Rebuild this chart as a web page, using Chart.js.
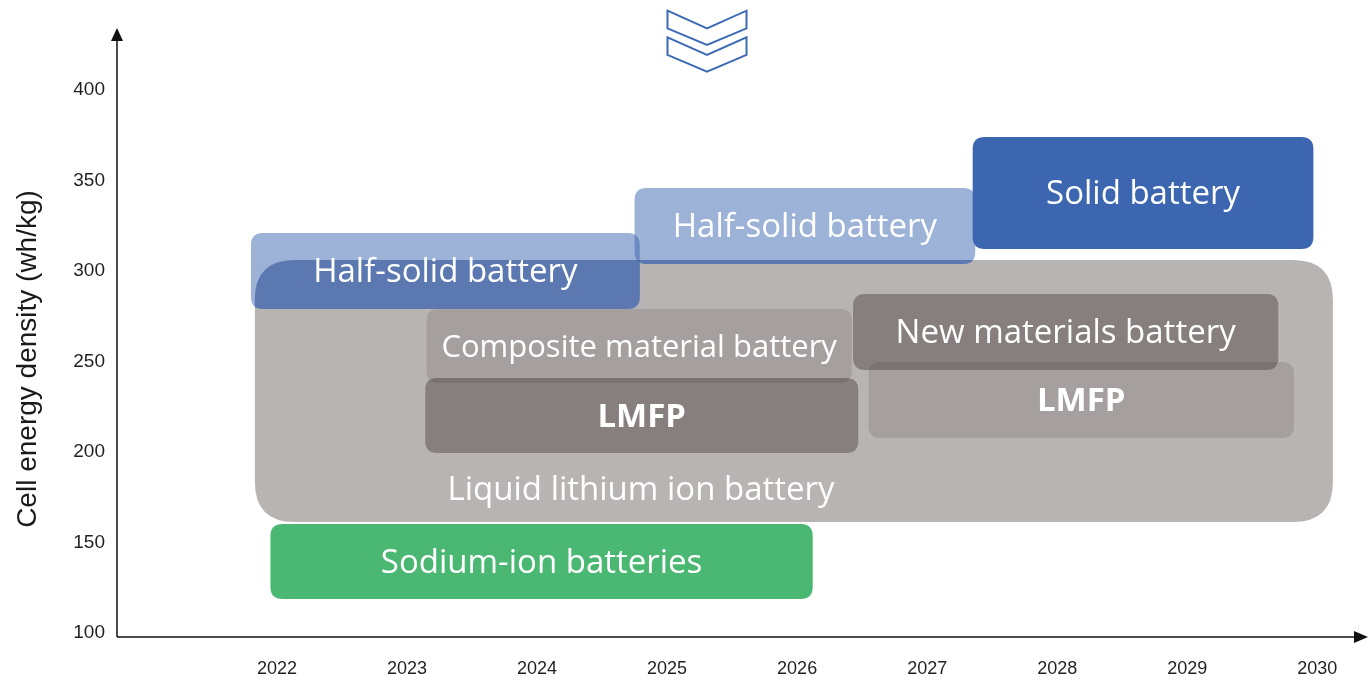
<!DOCTYPE html>
<html>
<head>
<meta charset="utf-8">
<script src="https://cdn.jsdelivr.net/npm/chart.js@4"></script>
<style>
  html, body { margin: 0; padding: 0; background: #fff; }
  #wrap { width: 1371px; height: 680px; }
</style>
</head>
<body>
<div id="wrap"><canvas id="chart"></canvas></div>
<script>
// Dados do gráfico
const years = [2022, 2023, 2024, 2025, 2026, 2027, 2028, 2029, 2030];
const yTicks = [100, 150, 200, 250, 300, 350, 400];

const boxNames = ['Liquid lithium ion battery', 'Composite material battery', 'LMFP', 'New materials battery',
  'LMFP', 'Sodium-ion batteries', 'Half-solid battery', 'Half-solid battery', 'Solid battery'];
const boxStart = [2021.83, 2023.15, 2023.14, 2026.43, 2026.55, 2021.95, 2021.8, 2024.75, 2027.35];
const boxEnd   = [2030.12, 2026.42, 2026.47, 2029.7, 2029.82, 2026.12, 2024.79, 2027.37, 2029.97];
const boxLow   = [161.3, 238.1, 199.4, 245.3, 207.7, 118.8, 279, 303.9, 312.2];
const boxHigh  = [306.1, 279, 240.9, 287.3, 249.7, 160.2, 321, 345.9, 374];
// posição do rótulo (null = centro da caixa)
const labelYear = [2024.8, null, null, null, null, null, null, null, null];
const labelValue = [180, null, null, null, null, null, null, null, null];

const boxColors = ['#b8b4b3', 'rgba(60,45,45,0.15)', 'rgba(40,30,28,0.35)', 'rgba(40,30,28,0.35)',
  'rgba(60,45,45,0.15)', '#4ab873', 'rgba(59,101,176,0.5)', 'rgba(59,101,176,0.5)', '#3c66b0'];
const boxRadius = [40, 12, 12, 12, 12, 12, 12, 12, 12];
const boxBold = [false, false, true, false, true, false, false, false, false];
const labelSize = [33, 31, 33, 33, 33, 33, 33, 33, 33];
// caixas azuis ficam mais escuras sobre a caixa cinza
const deepenOnBase = [false, false, false, false, false, false, true, true, false];

function roundRect(ctx, x, y, w, h, r) {
  r = Math.min(r, w / 2, h / 2);
  ctx.beginPath();
  ctx.moveTo(x + r, y);
  ctx.lineTo(x + w - r, y);
  ctx.quadraticCurveTo(x + w, y, x + w, y + r);
  ctx.lineTo(x + w, y + h - r);
  ctx.quadraticCurveTo(x + w, y + h, x + w - r, y + h);
  ctx.lineTo(x + r, y + h);
  ctx.quadraticCurveTo(x, y + h, x, y + h - r);
  ctx.lineTo(x, y + r);
  ctx.quadraticCurveTo(x, y, x + r, y);
  ctx.closePath();
}

function boxPath(ctx, x, y, i) {
  const x0 = x.getPixelForValue(boxStart[i]);
  const x1 = x.getPixelForValue(boxEnd[i]);
  const y0 = y.getPixelForValue(boxHigh[i]);
  const y1 = y.getPixelForValue(boxLow[i]);
  roundRect(ctx, x0, y0, x1 - x0, y1 - y0, boxRadius[i]);
}

// Caixas desenhadas a partir das escalas
const boxesPlugin = {
  id: 'boxes',
  beforeDatasetsDraw(chart) {
    const { ctx, scales: { x, y } } = chart;
    ctx.save();
    boxNames.forEach((name, i) => {
      ctx.fillStyle = boxColors[i];
      boxPath(ctx, x, y, i);
      ctx.fill();
      if (deepenOnBase[i]) {
        ctx.save();
        boxPath(ctx, x, y, 0);
        ctx.clip();
        boxPath(ctx, x, y, i);
        ctx.fill();
        ctx.restore();
      }
    });
    boxNames.forEach((name, i) => {
      const lx = labelYear[i] != null ? x.getPixelForValue(labelYear[i])
        : (x.getPixelForValue(boxStart[i]) + x.getPixelForValue(boxEnd[i])) / 2;
      const ly = labelValue[i] != null ? y.getPixelForValue(labelValue[i])
        : (y.getPixelForValue(boxLow[i]) + y.getPixelForValue(boxHigh[i])) / 2;
      ctx.fillStyle = '#ffffff';
      ctx.textAlign = 'center';
      ctx.textBaseline = 'middle';
      ctx.font = (boxBold[i] ? 'bold ' : '') + labelSize[i] + 'px "Open Sans", "Noto Sans", sans-serif';
      ctx.fillText(name, lx, ly + 2);
    });
    ctx.restore();
  },
  afterDraw(chart) {
    const { ctx, chartArea: a } = chart;
    ctx.save();
    // eixos com setas
    ctx.strokeStyle = '#111';
    ctx.fillStyle = '#111';
    ctx.lineWidth = 1.5;
    ctx.beginPath();
    ctx.moveTo(a.left, a.bottom);
    ctx.lineTo(a.left, a.top + 8);
    ctx.moveTo(a.left, a.bottom);
    ctx.lineTo(a.right - 8, a.bottom);
    ctx.stroke();
    ctx.beginPath();
    ctx.moveTo(a.left, a.top);
    ctx.lineTo(a.left - 6, a.top + 13);
    ctx.lineTo(a.left + 6, a.top + 13);
    ctx.closePath();
    ctx.fill();
    ctx.beginPath();
    ctx.moveTo(a.right, a.bottom);
    ctx.lineTo(a.right - 14, a.bottom - 6);
    ctx.lineTo(a.right - 14, a.bottom + 6);
    ctx.closePath();
    ctx.fill();

    // título do eixo Y
    ctx.translate(28, 359);
    ctx.rotate(-Math.PI / 2);
    ctx.fillStyle = '#1a1a1a';
    ctx.textAlign = 'center';
    ctx.textBaseline = 'middle';
    ctx.font = '28px "Liberation Sans", Arial, sans-serif';
    ctx.fillText('Cell energy density (wh/kg)', 0, 0);
    ctx.setTransform(1, 0, 0, 1, 0, 0);

    // setas decorativas (chevrons)
    ctx.strokeStyle = '#3d6ab4';
    ctx.lineWidth = 2;
    ctx.lineJoin = 'miter';
    [0, 26.6].forEach(dy => {
      ctx.beginPath();
      ctx.moveTo(667.5, 10.7 + dy);
      ctx.lineTo(707, 28.3 + dy);
      ctx.lineTo(746.5, 10.7 + dy);
      ctx.lineTo(746.5, 28.3 + dy);
      ctx.lineTo(707, 45 + dy);
      ctx.lineTo(667.5, 28.3 + dy);
      ctx.closePath();
      ctx.stroke();
    });
    ctx.restore();
  }
};

new Chart(document.getElementById('chart'), {
  type: 'scatter',
  data: { datasets: [] },
  options: {
    responsive: true,
    maintainAspectRatio: false,
    animation: false,
    layout: { padding: { top: 28, right: 3, left: 0, bottom: 0 } },
    plugins: { legend: { display: false }, tooltip: { enabled: false } },
    scales: {
      x: {
        type: 'linear',
        min: 2020.77,
        max: 2030.39,
        afterBuildTicks: s => { s.ticks = years.map(v => ({ value: v })); },
        afterFit: s => { s.height = 43; },
        grid: { display: false, drawTicks: false },
        border: { display: false },
        ticks: {
          padding: 21,
          color: '#231f20',
          font: { family: '"Liberation Sans", Arial, sans-serif', size: 18 },
          callback: v => String(v)
        }
      },
      y: {
        type: 'linear',
        min: 97.79,
        max: 434.25,
        afterBuildTicks: s => { s.ticks = yTicks.map(v => ({ value: v })); },
        afterFit: s => { s.width = 117; },
        grid: { display: false, drawTicks: false },
        border: { display: false },
        ticks: {
          padding: 12,
          color: '#231f20',
          font: { family: '"Liberation Sans", Arial, sans-serif', size: 19 }
        }
      }
    }
  },
  plugins: [boxesPlugin]
});
</script>
</body>
</html>
